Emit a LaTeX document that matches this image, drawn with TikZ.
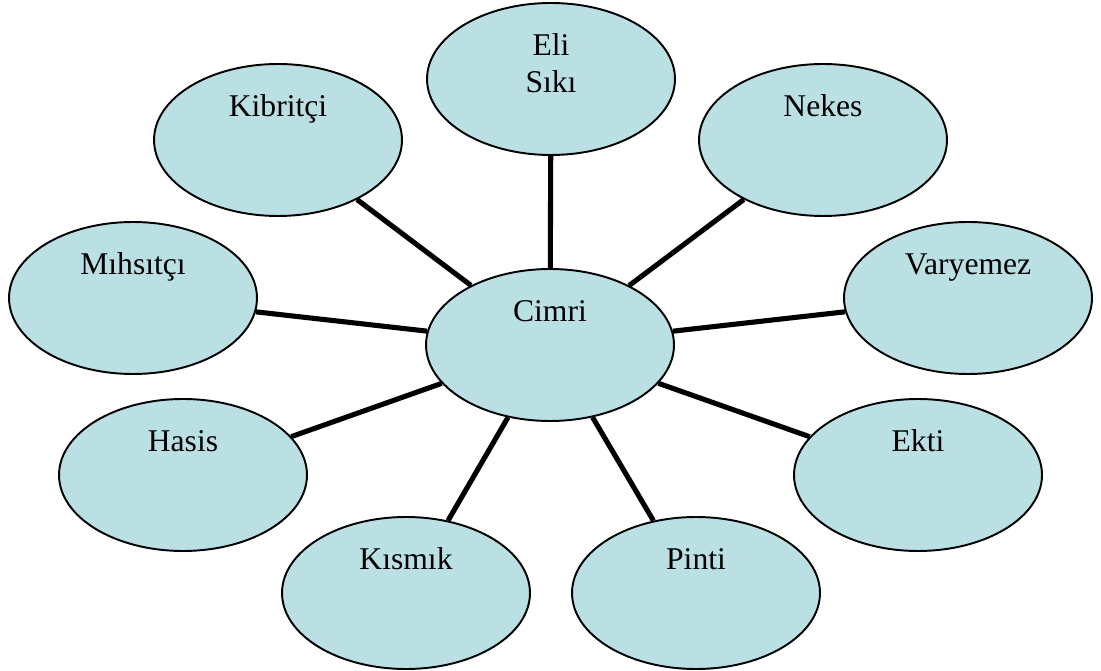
\documentclass[tikz,border=0pt]{standalone}
\usepackage{fontspec}
\setmainfont{Liberation Serif}
\usepackage{tikz}
\usetikzlibrary{shapes.geometric, positioning}
\definecolor{mycyan}{RGB}{186,224,228}
\definecolor{mydark}{RGB}{0,0,0}
\tikzset{
  bubble/.style={ellipse, draw=mydark, fill=mycyan, line width=1.1pt,
    minimum width=4.96cm, minimum height=3.04cm, inner sep=1pt,
    align=center, text height=0.5cm, text depth=1.44cm,
    font=\fontsize{18}{21}\selectfont},
  spoke/.style={line width=2.9pt, color=mydark}
}

\begin{document}
\begin{tikzpicture}[x=0.02cm, y=-0.02cm]
  \useasboundingbox (0,0) rectangle (1101,671);

  % Centre word
  \node[bubble] (cimri) at (550,345) {Cimri};

  % Synonyms round it
  \node[bubble, text height=1.2cm, text depth=0.66cm] (elisiki) at (551,79) {Eli\\Sıkı};
  \node[bubble] (nekes) at (823,140) {Nekes};
  \node[bubble] (varyemez) at (968,298) {Varyemez};
  \node[bubble] (ekti) at (918,475) {Ekti};
  \node[bubble] (pinti) at (696,593) {Pinti};
  \node[bubble] (kismik) at (406,593) {Kısmık};
  \node[bubble] (hasis) at (183,475) {Hasis};
  \node[bubble] (mihsitci) at (133,298) {Mıhsıtçı};
  \node[bubble] (kibritci) at (278,140) {Kibritçi};

  % Spokes
  \draw[spoke] (cimri) -- (elisiki);
  \draw[spoke] (cimri) -- (nekes);
  \draw[spoke] (cimri) -- (varyemez);
  \draw[spoke] (cimri) -- (ekti);
  \draw[spoke] (cimri) -- (pinti);
  \draw[spoke] (cimri) -- (kismik);
  \draw[spoke] (cimri) -- (hasis);
  \draw[spoke] (cimri) -- (mihsitci);
  \draw[spoke] (cimri) -- (kibritci);

\end{tikzpicture}
\end{document}
